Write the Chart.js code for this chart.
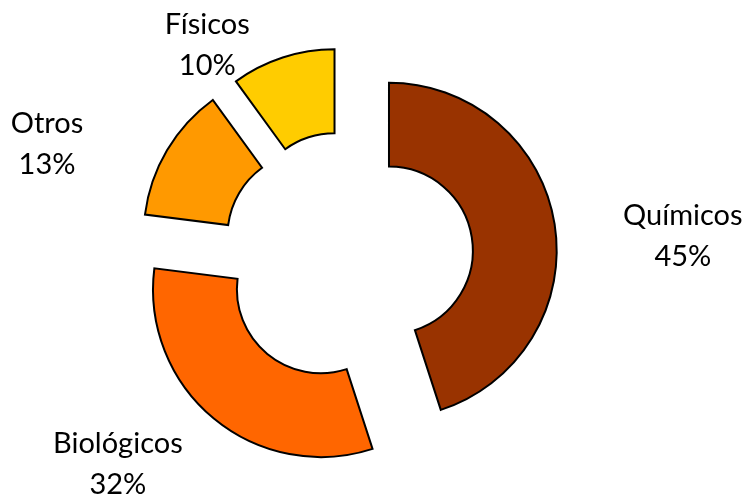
<!DOCTYPE html>
<html><head><meta charset="utf-8">
<script src="https://cdn.jsdelivr.net/npm/chart.js@4/dist/chart.umd.min.js"></script>
<style>html,body{margin:0;padding:0;background:#fff;} canvas{display:block;}</style>
</head><body>
<canvas id="c" width="747" height="502"></canvas>
<script>
// ---- data ----
const categories = ['Químicos', 'Biológicos', 'Otros', 'Físicos'];
const shares = [45, 32, 13, 10];
const percentLabels = shares.map(v => v + '%');

// ---- styles / layout ----
const sliceColors = ['#993300', '#FF6600', '#FF9900', '#FFCC00'];
const EXPLODE = 42;          // px each slice is pulled out
const OUTER_RADIUS = 167.7;  // px
const LABEL_FONT = '29px Lato';
const LINE_GAP = 41;
// label block centre, polar around the pie centre: [deg clockwise from top, distance px]
const labelPolar = [[86.4, 336], [228, 309], [290.6, 321], [326.5, 254]];

const explodePlugin = {
  id: 'explode',
  beforeDatasetsDraw(chart) {
    chart.getDatasetMeta(0).data.forEach(arc => {
      if (arc._exploded) return;
      arc._exploded = true;
      arc.draw = function (ctx, area) {
        const mid = (this.startAngle + this.endAngle) / 2;
        ctx.save();
        ctx.translate(Math.cos(mid) * EXPLODE, Math.sin(mid) * EXPLODE);
        Chart.ArcElement.prototype.draw.call(this, ctx, area);
        ctx.restore();
      };
    });
  }
};

const labelPlugin = {
  id: 'sliceLabels',
  afterDraw(chart) {
    const ctx = chart.ctx;
    const arc0 = chart.getDatasetMeta(0).data[0];
    const cx = arc0.x, cy = arc0.y;
    ctx.save();
    ctx.font = LABEL_FONT;
    ctx.fillStyle = '#000';
    ctx.textAlign = 'center';
    ctx.textBaseline = 'middle';
    categories.forEach((name, i) => {
      const [a, d] = labelPolar[i];
      const rad = a * Math.PI / 180;
      const x = cx + Math.sin(rad) * d;
      const y = cy - Math.cos(rad) * d;
      ctx.fillText(name, x, y - LINE_GAP / 2);
      ctx.fillText(percentLabels[i], x, y + LINE_GAP / 2);
    });
    ctx.restore();
  }
};

function build() {
  new Chart(document.getElementById('c'), {
    type: 'doughnut',
    data: {
      labels: categories,
      datasets: [{
        data: shares,
        backgroundColor: sliceColors,
        borderColor: '#000',
        borderWidth: 2,
        borderJoinStyle: 'miter'
      }]
    },
    options: {
      responsive: false,
      animation: false,
      radius: OUTER_RADIUS,
      cutout: '50%',
      layout: { padding: { left: 0, right: 52, top: 12, bottom: 0 } },
      plugins: { legend: { display: false }, tooltip: { enabled: false } },
      events: []
    },
    plugins: [explodePlugin, labelPlugin]
  });
}
if (document.fonts && document.fonts.load) {
  document.fonts.load(LABEL_FONT).then(build, build);
} else { build(); }
</script>
</body></html>
